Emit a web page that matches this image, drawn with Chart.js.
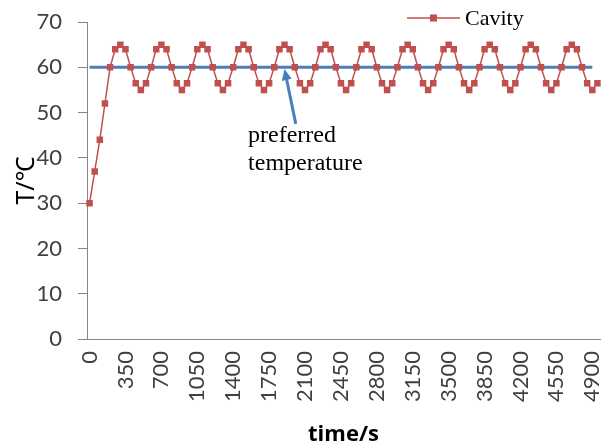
<!DOCTYPE html>
<html>
<head>
<meta charset="utf-8">
<script src="https://cdn.jsdelivr.net/npm/chart.js@4.4.1/dist/chart.umd.min.js"></script>
<style>
  html, body { margin: 0; padding: 0; background: #fff; }
  #wrap { width: 607px; height: 448px; }
</style>
</head>
<body>
<div id="wrap"><canvas id="chart"></canvas></div>
<script>
// time in seconds, one sample every 50 s
const times = [
  0, 50, 100, 150, 200, 250, 300, 350, 400, 450, 500, 550, 600, 650, 700, 750, 800, 850, 900, 950,
  1000, 1050, 1100, 1150, 1200, 1250, 1300, 1350, 1400, 1450, 1500, 1550, 1600, 1650, 1700, 1750, 1800, 1850, 1900, 1950,
  2000, 2050, 2100, 2150, 2200, 2250, 2300, 2350, 2400, 2450, 2500, 2550, 2600, 2650, 2700, 2750, 2800, 2850, 2900, 2950,
  3000, 3050, 3100, 3150, 3200, 3250, 3300, 3350, 3400, 3450, 3500, 3550, 3600, 3650, 3700, 3750, 3800, 3850, 3900, 3950,
  4000, 4050, 4100, 4150, 4200, 4250, 4300, 4350, 4400, 4450, 4500, 4550, 4600, 4650, 4700, 4750, 4800, 4850, 4900, 4950
];

// cavity temperature, °C
const cavity = [
  30, 37, 44, 52,
  60, 64, 65, 64, 60, 56.5, 55, 56.5,
  60, 64, 65, 64, 60, 56.5, 55, 56.5,
  60, 64, 65, 64, 60, 56.5, 55, 56.5,
  60, 64, 65, 64, 60, 56.5, 55, 56.5,
  60, 64, 65, 64, 60, 56.5, 55, 56.5,
  60, 64, 65, 64, 60, 56.5, 55, 56.5,
  60, 64, 65, 64, 60, 56.5, 55, 56.5,
  60, 64, 65, 64, 60, 56.5, 55, 56.5,
  60, 64, 65, 64, 60, 56.5, 55, 56.5,
  60, 64, 65, 64, 60, 56.5, 55, 56.5,
  60, 64, 65, 64, 60, 56.5, 55, 56.5,
  60, 64, 65, 64, 60, 56.5, 55, 56.5
];

// preferred temperature line
const preferred = [
  60, 60, 60, 60, 60, 60, 60, 60, 60, 60, 60, 60, 60, 60, 60, 60, 60, 60, 60, 60,
  60, 60, 60, 60, 60, 60, 60, 60, 60, 60, 60, 60, 60, 60, 60, 60, 60, 60, 60, 60,
  60, 60, 60, 60, 60, 60, 60, 60, 60, 60, 60, 60, 60, 60, 60, 60, 60, 60, 60, 60,
  60, 60, 60, 60, 60, 60, 60, 60, 60, 60, 60, 60, 60, 60, 60, 60, 60, 60, 60, 60,
  60, 60, 60, 60, 60, 60, 60, 60, 60, 60, 60, 60, 60, 60, 60, 60, 60, 60, 60, null
];

const yTicks = [0, 10, 20, 30, 40, 50, 60, 70];
const labelEvery = 7; // a tick label every 350 s

const RED = "#C0504D";
const BLUE = "#4A7EBB";
const AXIS = "#868686";
const SERIF = "'Liberation Serif', 'Times New Roman', serif";

// arrow + note, placed in data space (category index, °C)
const note = {
  lines: ["preferred", "temperature"],
  at: [30.9, 43.4],
  lineGap: 28,
  arrowFrom: [40.2, 47.5],
  arrowTo: [38, 59.6]
};

const notePlugin = {
  id: "note",
  afterDatasetsDraw(chart) {
    const { ctx, scales } = chart;
    const x = scales.x, y = scales.y;
    const x1 = x.getPixelForValue(note.arrowFrom[0]), y1 = y.getPixelForValue(note.arrowFrom[1]);
    const x2 = x.getPixelForValue(note.arrowTo[0]), y2 = y.getPixelForValue(note.arrowTo[1]);
    const ang = Math.atan2(y2 - y1, x2 - x1);
    const head = 11, half = 5;
    ctx.save();
    ctx.strokeStyle = BLUE;
    ctx.fillStyle = BLUE;
    ctx.lineWidth = 3;
    ctx.beginPath();
    ctx.moveTo(x1, y1);
    ctx.lineTo(x2 - Math.cos(ang) * head * 0.8, y2 - Math.sin(ang) * head * 0.8);
    ctx.stroke();
    ctx.beginPath();
    ctx.moveTo(x2, y2);
    ctx.lineTo(x2 - Math.cos(ang) * head - Math.sin(ang) * half, y2 - Math.sin(ang) * head + Math.cos(ang) * half);
    ctx.lineTo(x2 - Math.cos(ang) * head + Math.sin(ang) * half, y2 - Math.sin(ang) * head - Math.cos(ang) * half);
    ctx.closePath();
    ctx.fill();

    ctx.fillStyle = "#000";
    ctx.font = "24px " + SERIF;
    ctx.textAlign = "left";
    ctx.textBaseline = "alphabetic";
    const tx = x.getPixelForValue(note.at[0]), ty = y.getPixelForValue(note.at[1]);
    note.lines.forEach((s, i) => ctx.fillText(s, tx, ty + i * note.lineGap));
    ctx.restore();
  }
};

// legend: line with a square marker, then the series name
const legendPlugin = {
  id: "lineLegend",
  afterDraw(chart) {
    const { ctx } = chart;
    const ds = chart.data.datasets[0];
    const lx = 407, ly = 18, len = 53;
    ctx.save();
    ctx.strokeStyle = ds.borderColor;
    ctx.lineWidth = 1.5;
    ctx.beginPath();
    ctx.moveTo(lx, ly);
    ctx.lineTo(lx + len, ly);
    ctx.stroke();
    ctx.fillStyle = ds.pointBackgroundColor;
    ctx.fillRect(lx + len / 2 - 3.5, ly - 3.5, 7, 7);
    ctx.fillStyle = "#000";
    ctx.font = "22px " + SERIF;
    ctx.textBaseline = "middle";
    ctx.fillText(ds.label, lx + len + 5, ly + 1);
    ctx.restore();
  }
};

new Chart(document.getElementById("chart"), {
  type: "line",
  data: {
    labels: times,
    datasets: [
      {
        label: "Cavity",
        data: cavity,
        borderColor: RED,
        borderWidth: 1.5,
        pointStyle: "rect",
        pointRadius: 4.6,
        pointBackgroundColor: RED,
        pointBorderColor: RED,
        pointBorderWidth: 0,
        tension: 0
      },
      {
        label: "preferred temperature",
        data: preferred,
        borderColor: BLUE,
        borderWidth: 3,
        pointRadius: 0,
        tension: 0
      }
    ]
  },
  options: {
    responsive: true,
    maintainAspectRatio: false,
    animation: false,
    events: [],
    layout: { padding: { top: 22, right: 7, left: 0, bottom: 0 } },
    plugins: {
      legend: { display: false },
      tooltip: { enabled: false }
    },
    scales: {
      x: {
        type: "category",
        offset: true,
        grid: { display: false, drawTicks: false },
        border: { display: true, color: AXIS, width: 1 },
        ticks: {
          autoSkip: false,
          minRotation: 90,
          maxRotation: 90,
          padding: 12,
          color: "#404040",
          font: { family: "Lato, 'Open Sans', sans-serif", size: 22 },
          callback(v, i) {
            return i % labelEvery === 0 ? String(times[i]) : "";
          }
        },
        title: {
          display: true,
          text: "time/s",
          color: "#000",
          font: { family: "'Open Sans', sans-serif", size: 22, weight: "bold" },
          padding: { top: 0, bottom: 0 }
        },
        afterFit(scale) {
          scale.height = 109;
          scale.paddingLeft = 0;
          scale.paddingRight = 0;
        }
      },
      y: {
        min: 0,
        max: 70,
        afterBuildTicks(scale) {
          scale.ticks = yTicks.map(v => ({ value: v }));
        },
        grid: {
          display: true,
          drawOnChartArea: false,
          drawTicks: true,
          tickLength: 9,
          color: AXIS
        },
        border: { display: true, color: AXIS, width: 1 },
        ticks: {
          padding: 16,
          color: "#404040",
          font: { family: "Lato, 'Open Sans', sans-serif", size: 22 }
        },
        title: {
          display: true,
          text: "T/℃",
          color: "#000",
          font: { family: "'Noto Sans', 'Noto Sans CJK SC', sans-serif", size: 25 },
          padding: { top: 12, bottom: 0 }
        },
        afterFit(scale) {
          scale.width = 87;
          scale.paddingTop = 0;
          scale.paddingBottom = 0;
        }
      }
    }
  },
  plugins: [notePlugin, legendPlugin]
});
</script>
</body>
</html>
